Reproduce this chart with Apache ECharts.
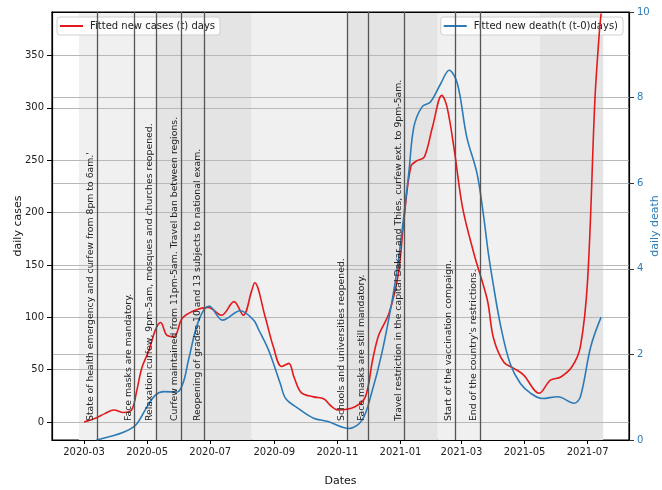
<!DOCTYPE html>
<html>
<head>
<meta charset="utf-8">
<script src="https://cdn.jsdelivr.net/npm/echarts@6/dist/echarts.min.js"></script>
<style>
  html, body { margin: 0; padding: 0; background: #fff; }
  #chart { width: 662px; height: 490px; }
</style>
</head>
<body>
<div id="chart"></div>
<script>
// Fitted daily new cases (left axis)
const caseDates = [
  '2020-03-01','2020-03-12','2020-03-21','2020-03-30','2020-04-08','2020-04-16','2020-04-21','2020-04-26',
  '2020-05-03','2020-05-09','2020-05-14','2020-05-20','2020-05-27','2020-06-04','2020-06-17','2020-06-29',
  '2020-07-12','2020-07-24','2020-08-02','2020-08-10','2020-08-13','2020-08-23','2020-08-31','2020-09-08',
  '2020-09-15','2020-09-20','2020-09-27','2020-10-09','2020-10-19','2020-10-25','2020-11-02','2020-11-18',
  '2020-11-28','2020-12-05','2020-12-11','2020-12-21','2020-12-30','2021-01-04','2021-01-11','2021-01-17',
  '2021-01-24','2021-02-01','2021-02-10','2021-02-15','2021-02-22','2021-03-02','2021-03-13','2021-03-26',
  '2021-04-01','2021-04-11','2021-04-21','2021-04-30','2021-05-15','2021-05-26','2021-06-05','2021-06-16',
  '2021-06-24','2021-07-01','2021-07-08','2021-07-12','2021-07-14'
];
const caseValues = [
  0, 3.5, 8, 11.5, 9, 11.5, 30, 52,
  69, 88, 95, 83, 81.5, 99, 107, 109.5,
  102, 115, 102, 125, 133, 101, 72, 53,
  56, 43, 28, 24, 22, 16, 11.5, 14.6,
  24, 59, 83, 104, 142, 190, 244, 249.6,
  253, 282, 312, 301, 260, 205, 161, 116.5,
  80, 57, 51, 45, 27.4, 40, 43, 53,
  72, 136, 307, 368, 390
];

// Fitted daily new deaths (right axis)
const deathDates = [
  '2020-03-13','2020-03-26','2020-04-08','2020-04-20','2020-05-01','2020-05-09','2020-05-17','2020-05-30',
  '2020-06-05','2020-06-10','2020-06-20','2020-06-30','2020-07-13','2020-07-30','2020-08-12','2020-08-17',
  '2020-08-25','2020-08-30','2020-09-07','2020-09-12','2020-09-24','2020-10-09','2020-10-23','2020-11-12',
  '2020-11-25','2020-12-04','2020-12-14','2020-12-24','2020-12-30','2021-01-09','2021-01-14','2021-01-22',
  '2021-01-30','2021-02-09','2021-02-17','2021-02-25','2021-03-06','2021-03-16','2021-03-22','2021-03-27',
  '2021-03-31','2021-04-08','2021-04-17','2021-04-27','2021-05-07','2021-05-18','2021-06-02','2021-06-18',
  '2021-06-24','2021-07-04','2021-07-14'
];
const deathValues = [
  0.0, 0.08, 0.18, 0.35, 0.78, 1.05, 1.13, 1.12,
  1.35, 1.87, 2.8, 3.13, 2.8, 3.02, 2.8, 2.57,
  2.18, 1.87, 1.3, 0.97, 0.74, 0.51, 0.43, 0.27,
  0.47, 1.09, 2.03, 3.27, 4.2, 6.23, 7.32, 7.79,
  7.9, 8.33, 8.64, 8.33, 7.09, 6.23, 5.3, 4.36,
  3.74, 2.65, 1.79, 1.32, 1.09, 0.97, 1.01, 0.86,
  1.01, 2.18, 2.87
];

// Axis ticks
const monthTicks = ['2020-03','2020-05','2020-07','2020-09','2020-11','2021-01','2021-03','2021-05','2021-07'];
const caseTicks = [0, 50, 100, 150, 200, 250, 300, 350];
const deathTicks = [0, 2, 4, 6, 8, 10];

// Policy events
const eventDates = [
  '2020-03-14','2020-04-19','2020-05-10','2020-06-03','2020-06-25',
  '2020-11-11','2020-12-01','2021-01-05','2021-02-23','2021-03-19'
];
const eventTexts = [
  "State of health emergency and curfew from 8pm to 6am.'",
  'Face masks are mandatory.',
  'Relaxation curfew, 9pm-5am, mosques and churches reopened.',
  'Curfew maintained from 11pm-5am. Travel ban between regions.',
  'Reopening of grades 10 and 13 subjects to national exam.',
  'Schools and universities reopened.',
  'Face masks are still mandatory.',
  'Travel restriction in the capital Dakar and Thies, curfew ext. to 9pm-5am.',
  'Start of the vaccination compaign.',
  "End of the country's restrictions."
];

// Shaded periods
const lightBands = [['2020-02-25','2020-05-10'], ['2020-08-10','2020-11-11'], ['2021-02-06','2021-05-16']];
const darkBands  = [['2020-05-10','2020-08-10'], ['2020-11-11','2021-02-06'], ['2021-05-16','2021-07-16']];

const FONT = 'DejaVu Sans';
const RED = '#e31a1c';
const BLUE = '#2c7bb6';

function toTime(s) {
  const p = s.split('-').map(Number);
  return Date.UTC(p[0], p[1] - 1, p[2] || 1);
}
const tickTimes = monthTicks.map(m => toTime(m + '-01'));
const xMin = toTime('2020-01-30');
const xMax = toTime('2021-08-10');

const bandAreas = []
  .concat(lightBands.map(b => [{ xAxis: toTime(b[0]), itemStyle: { color: '#f0f0f0' } }, { xAxis: toTime(b[1]) }]))
  .concat(darkBands.map(b => [{ xAxis: toTime(b[0]), itemStyle: { color: '#e4e4e4' } }, { xAxis: toTime(b[1]) }]));

const chart = echarts.init(document.getElementById('chart'), null, { renderer: 'canvas' });

const legendCommon = {
  top: 17,
  orient: 'horizontal',
  backgroundColor: 'rgba(255,255,255,0.85)',
  borderColor: '#d0d0d0',
  borderWidth: 1,
  borderRadius: 3,
  padding: [4, 5, 4, 3],
  itemWidth: 23,
  itemHeight: 2,
  icon: 'rect',
  textStyle: { fontFamily: FONT, fontSize: 10, color: '#222', padding: [0, 0, 0, 2] }
};

chart.setOption({
  animation: false,
  textStyle: { fontFamily: FONT },
  grid: {
    left: 52, right: 33, top: 12, bottom: 50,
    containLabel: false,
    outerBoundsMode: 'none',
    show: true, backgroundColor: '#fff', borderColor: '#000', borderWidth: 1.2
  },
  legend: [
    Object.assign({ left: 57, data: ['Fitted new cases (t) days'] }, legendCommon),
    Object.assign({ right: 39, data: ['Fitted new death(t (t-0)days)'] }, legendCommon)
  ],
  xAxis: [
    {
      type: 'value',
      min: xMin,
      max: xMax,
      z: 2,
      name: 'Dates',
      nameLocation: 'middle',
      nameGap: 36,
      nameMoveOverlap: false,
      nameTextStyle: { fontFamily: FONT, fontSize: 11, color: '#111' },
      axisLine: { show: true, onZero: false, lineStyle: { color: '#000', width: 1.2 } },
      axisTick: { show: true, length: 4, customValues: tickTimes, lineStyle: { color: '#000', width: 1 } },
      axisLabel: {
        customValues: tickTimes,
        margin: 7,
        fontFamily: FONT, fontSize: 10, color: '#222',
        hideOverlap: false,
        formatter: v => {
          const i = tickTimes.indexOf(v);
          return i >= 0 ? monthTicks[i] : '';
        }
      },
      splitLine: { show: false }
    },
    {
      type: 'value',
      position: 'top',
      min: xMin,
      max: xMax,
      z: 2,
      axisLine: { show: true, onZero: false, lineStyle: { color: '#000', width: 1.2 } },
      axisTick: { show: false },
      axisLabel: { show: false },
      splitLine: { show: false }
    }
  ],
  yAxis: [
    {
      type: 'value',
      min: -17.2,
      max: 391.6,
      z: 2,
      name: 'daily cases',
      nameLocation: 'middle',
      nameRotate: 90,
      nameGap: 28,
      nameMoveOverlap: false,
      nameTextStyle: { fontFamily: FONT, fontSize: 11, color: '#111' },
      axisLine: { show: true, onZero: false, lineStyle: { color: '#000', width: 1.2 } },
      axisTick: { show: true, length: 5, customValues: caseTicks, lineStyle: { color: '#000' } },
      axisLabel: { customValues: caseTicks, margin: 8, fontFamily: FONT, fontSize: 10, color: '#222' },
      splitLine: { show: true, lineStyle: { color: '#b8b8b8', width: 1.2 } }
    },
    {
      type: 'value',
      min: 0,
      max: 10,
      interval: 2,
      z: 2,
      position: 'right',
      name: 'daily death',
      nameLocation: 'middle',
      nameRotate: 90,
      nameGap: 21,
      nameMoveOverlap: false,
      nameTextStyle: { fontFamily: FONT, fontSize: 11, color: BLUE },
      axisLine: { show: true, onZero: false, lineStyle: { color: '#000', width: 1.2 } },
      axisTick: { show: true, length: 5, lineStyle: { color: '#333' } },
      axisLabel: { margin: 8, fontFamily: FONT, fontSize: 10, color: BLUE },
      splitLine: { show: true, lineStyle: { color: '#b8b8b8', width: 1.2 } }
    }
  ],
  series: [
    {
      // shaded periods
      type: 'line',
      name: 'periods',
      data: [],
      z: 1,
      silent: true,
      markArea: { silent: true, data: bandAreas }
    },
    {
      // policy event lines with their notes
      type: 'line',
      name: 'events',
      data: [],
      z: 3,
      silent: true,
      markLine: {
        silent: true,
        symbol: ['none', 'none'],
        animation: false,
        lineStyle: { color: '#555', width: 1.3, type: 'solid' },
        label: {
          show: true,
          position: 'insideStartTop',
          distance: [19, 2],
          fontFamily: FONT,
          fontSize: 9.3,
          color: '#222',
          formatter: p => p.name
        },
        emphasis: { disabled: true },
        data: eventDates.map((d, i) => ({ xAxis: toTime(d), name: eventTexts[i] }))
      }
    },
    {
      type: 'line',
      name: 'Fitted new cases (t) days',
      xAxisIndex: 0,
      yAxisIndex: 0,
      z: 4,
      showSymbol: false,
      symbol: 'none',
      smooth: 0.35,
      lineStyle: { color: RED, width: 1.6 },
      itemStyle: { color: RED },
      data: caseDates.map((d, i) => [toTime(d), caseValues[i]])
    },
    {
      type: 'line',
      name: 'Fitted new death(t (t-0)days)',
      xAxisIndex: 0,
      yAxisIndex: 1,
      z: 4,
      showSymbol: false,
      symbol: 'none',
      smooth: 0.35,
      lineStyle: { color: BLUE, width: 1.6 },
      itemStyle: { color: BLUE },
      data: deathDates.map((d, i) => [toTime(d), deathValues[i]])
    }
  ]
});
</script>
</body>
</html>
